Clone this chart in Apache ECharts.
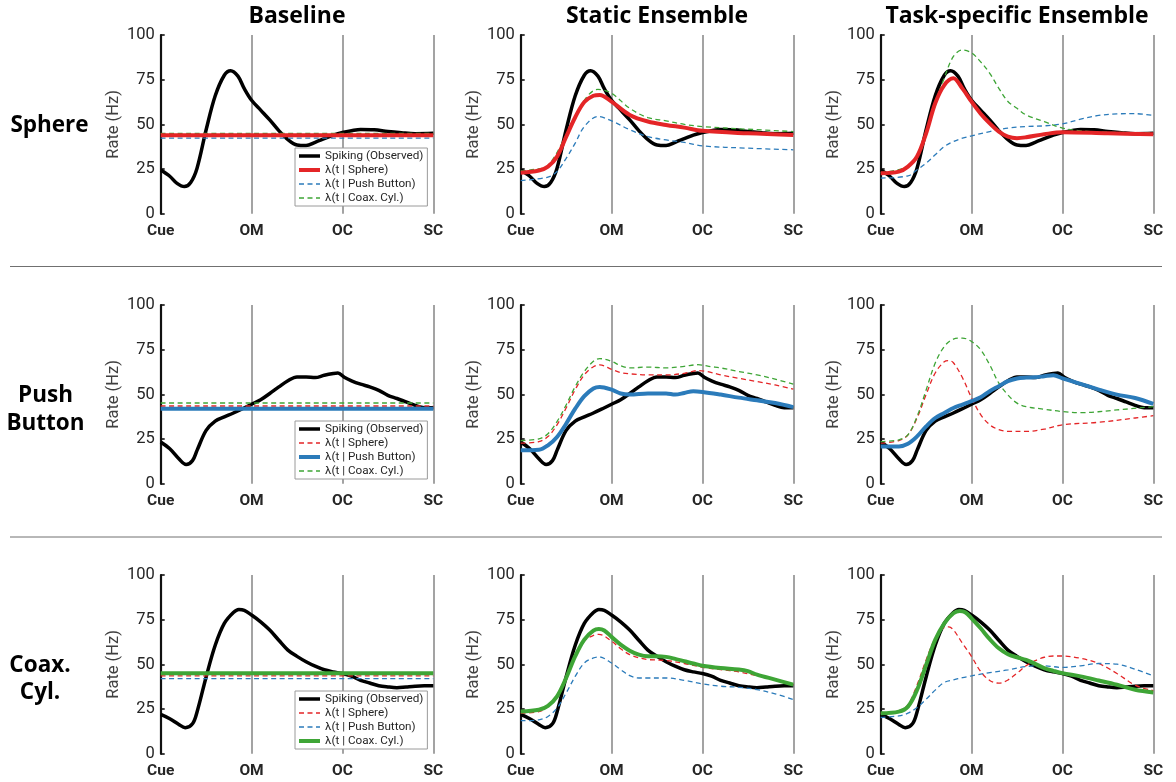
<!DOCTYPE html>
<html>
<head>
<meta charset="utf-8">
<title>Firing rate models</title>
<script src="https://cdn.jsdelivr.net/npm/echarts@6/dist/echarts.min.js"></script>
<style>
  html, body { margin: 0; padding: 0; background: #fff; }
  #chart { width: 1176px; height: 782px; }
</style>
</head>
<body>
<div id="chart"></div>
<script>
// ---- labels ----
const COL_TITLES = ['Baseline', 'Static Ensemble', 'Task-specific Ensemble'];
const ROW_LABELS = ['Sphere', 'Push\nButton', 'Coax.\nCyl.'];
const TIME_TICKS = ['Cue', 'OM', 'OC', 'SC'];           // x = 0, 1, 2, 3
const RATE_TICKS = [0, 25, 50, 75, 100];
const LEGEND_NAMES = ['Spiking (Observed)', 'λ(t | Sphere)', 'λ(t | Push Button)', 'λ(t | Coax. Cyl.)'];
const MODEL_COLORS = ['#e42527', '#2b7bba', '#3ea536'];  // Sphere, Push Button, Coax. Cyl.

// ---- observed spiking rate, [time, Hz] ----
const SPHERE_SPIKING = [[0,24.5],[0.1,21],[0.18,17],[0.26,15.2],[0.33,17.5],[0.4,25.5],[0.5,47],[0.6,66],[0.7,77.5],[0.77,80],[0.85,77],[0.92,70],[1.0,63.5],[1.1,58],[1.2,52.5],[1.3,46.5],[1.4,41.5],[1.5,38.5],[1.6,38.2],[1.7,40],[1.8,42],[1.9,44],[2.0,45.5],[2.1,46.5],[2.2,47.2],[2.35,47],[2.5,46],[2.65,45.3],[2.8,44.8],[3,45]];
const PUSH_SPIKING = [[0,23.4],[0.1,19.6],[0.2,14],[0.28,10.8],[0.35,13],[0.4,18.7],[0.5,29.9],[0.6,35.1],[0.7,37.4],[0.8,39.6],[0.9,42],[1.0,44.5],[1.1,47],[1.2,50.5],[1.3,54.2],[1.4,57.6],[1.5,59.8],[1.6,59.8],[1.7,59.4],[1.8,60.7],[1.9,61.7],[1.95,62],[2.02,59.6],[2.1,57.6],[2.2,55.7],[2.3,54.2],[2.4,52.3],[2.5,49.5],[2.6,47.7],[2.7,45.8],[2.8,43.9],[2.9,42.6],[3,42.6]];
const COAX_SPIKING = [[0,22],[0.1,19.6],[0.2,16.4],[0.27,14.6],[0.35,16.8],[0.4,23.4],[0.5,43],[0.6,60.7],[0.7,72.9],[0.8,79],[0.86,80.7],[0.92,80.2],[1.0,77.6],[1.1,73.8],[1.2,69.2],[1.3,63.5],[1.4,58],[1.5,54.5],[1.6,51.5],[1.7,49],[1.8,47],[1.9,45.8],[2.0,44.9],[2.1,43.4],[2.2,41.1],[2.3,39.6],[2.4,38.1],[2.5,37.4],[2.6,37],[2.7,37.4],[2.8,37.8],[2.9,38],[3,38]];

// ---- baseline (constant) rates: [Sphere, Push Button, Coax. Cyl.] ----
const SPHERE_BASELINE = [44.0, 42.3, 45.0];
const PUSH_BASELINE = [43.5, 42.0, 45.2];
const COAX_BASELINE = [43.6, 42.0, 45.0];

// ---- static ensemble predictions ----
const STATIC_SPHERE_SPH = [[0,23],[0.2,24.2],[0.3,26.4],[0.4,32],[0.5,43],[0.6,54],[0.7,62.5],[0.8,66],[0.87,66.5],[1.0,62.7],[1.2,55.3],[1.4,51.6],[1.6,49.7],[1.8,48.2],[2.0,46.4],[2.5,45],[3,44.1]];
const STATIC_SPHERE_PUSH = [[0,18.6],[0.3,20.5],[0.4,23.7],[0.5,31],[0.6,39.5],[0.7,48.8],[0.85,54.4],[1.0,52],[1.2,47],[1.4,43.2],[1.6,41.3],[1.8,39.9],[2.0,38],[2.5,36.7],[3,35.8]];
const STATIC_SPHERE_COAX = [[0,24],[0.15,24.8],[0.3,27],[0.5,44],[0.7,63.5],[0.85,69.6],[1.0,67.4],[1.2,59],[1.4,53.8],[1.6,52],[1.8,50],[2.0,48.8],[2.5,47.3],[3,46]];

const STATIC_PUSH_SPH = [[0,22.7],[0.2,23.6],[0.3,26.4],[0.4,33],[0.5,42.4],[0.6,52.7],[0.7,61],[0.8,65.5],[0.87,66.5],[1.0,64],[1.1,62.2],[1.2,61.5],[1.4,60.9],[1.6,60.9],[1.8,61.8],[1.95,63.3],[2.05,62.8],[2.2,60.9],[2.4,59],[2.6,57.2],[2.8,55.3],[3,52.9]];
const STATIC_PUSH_PUSH = [[0,18.7],[0.2,19],[0.3,21.5],[0.4,26.2],[0.5,33.6],[0.6,42],[0.7,49],[0.8,53.3],[0.87,54.2],[1.0,52.7],[1.1,50.5],[1.2,49.9],[1.4,50.5],[1.6,50.5],[1.7,49.9],[1.8,50.8],[1.9,51.8],[2.0,51.4],[2.2,49.9],[2.4,48.2],[2.6,46.7],[2.8,45.2],[3,42.9]];
const STATIC_PUSH_COAX = [[0,24.2],[0.2,25.1],[0.3,28],[0.4,34.8],[0.5,44.1],[0.6,54.4],[0.7,62.8],[0.8,68.5],[0.87,70],[1.0,68.5],[1.1,66],[1.2,64.8],[1.4,65.3],[1.6,64.8],[1.8,65.7],[1.95,66.6],[2.1,65.5],[2.2,64.8],[2.4,62.8],[2.6,60.9],[2.8,58.5],[3,55.7]];

const STATIC_COAX_SPH = [[0,22.7],[0.2,23.6],[0.3,26.4],[0.4,33],[0.5,43.3],[0.6,54.6],[0.7,63],[0.8,66.2],[0.86,66.8],[1.0,63],[1.1,58.7],[1.2,55.5],[1.3,53.7],[1.4,52.7],[1.6,52.2],[1.8,50.5],[2.0,48.4],[2.2,47.1],[2.4,45.8],[2.6,43.7],[2.8,41.5],[3,38.7]];
const STATIC_COAX_PUSH = [[0,18.5],[0.2,19],[0.3,20.9],[0.4,25.6],[0.5,34],[0.6,43.3],[0.7,50.8],[0.8,53.6],[0.86,54.2],[1.0,50.8],[1.1,47.1],[1.2,43.7],[1.3,42.4],[1.4,42.4],[1.6,42.4],[1.8,41.1],[2.0,39.1],[2.2,37.8],[2.4,37.2],[2.6,35.9],[2.8,33.5],[3,30.4]];
const STATIC_COAX_COAX = [[0,23.6],[0.2,24.6],[0.3,26.8],[0.4,32.1],[0.5,42.4],[0.6,54.6],[0.7,63.9],[0.8,68.9],[0.86,69.8],[0.92,69],[1.0,65.4],[1.1,61.1],[1.2,57.7],[1.3,55.5],[1.4,54.6],[1.5,54.6],[1.6,54.2],[1.7,53.1],[1.8,51.8],[1.9,50.5],[2.0,49.3],[2.2,48],[2.4,47.1],[2.5,46.2],[2.6,44.3],[2.8,41.5],[3,38.7]];

// ---- task-specific ensemble predictions ----
const TASK_SPHERE_SPH = [[0,22.7],[0.2,23.6],[0.3,26.4],[0.4,32],[0.5,45],[0.6,61.8],[0.7,72],[0.8,75.8],[0.9,70],[1.0,62.7],[1.1,56],[1.2,50.6],[1.3,46],[1.4,43.2],[1.5,42.3],[1.6,42.8],[1.8,44.5],[2.0,45.6],[2.5,45],[3,44.5]];
const TASK_SPHERE_PUSH = [[0,20],[0.3,21.2],[0.4,24.6],[0.5,28.3],[0.6,33],[0.7,37.6],[0.8,40.4],[0.9,42.3],[1.0,43.6],[1.2,46],[1.4,47.9],[1.6,48.8],[1.8,49.2],[2.0,50.3],[2.2,52.9],[2.4,55],[2.6,55.9],[2.8,56],[3,55]];
const TASK_SPHERE_COAX = [[0,23],[0.3,26.4],[0.4,33],[0.5,46],[0.6,62],[0.7,76],[0.8,88],[0.9,91.6],[1.0,90],[1.1,85],[1.2,78.6],[1.3,70.2],[1.4,62.8],[1.5,59],[1.6,55.3],[1.8,51.6],[2.0,47.9],[2.2,46.4],[2.5,45.6],[3,45.4]];

const TASK_PUSH_SPH = [[0,22.7],[0.2,24.2],[0.3,27.4],[0.4,36.8],[0.5,49.9],[0.6,62],[0.7,68.3],[0.75,68.9],[0.8,67.7],[0.9,59.3],[1.0,48],[1.1,38.7],[1.2,33],[1.3,30.3],[1.4,29.3],[1.6,29.3],[1.8,30.6],[2.0,33],[2.4,34.4],[2.8,36.8],[3,38.1]];
const TASK_PUSH_PUSH = [[0,20.9],[0.2,20.9],[0.3,22.4],[0.4,26.5],[0.5,32.1],[0.6,36.8],[0.7,39.6],[0.8,42.4],[0.9,44.3],[1.0,46.2],[1.1,48.4],[1.2,51.8],[1.3,54.6],[1.4,57.4],[1.5,58.9],[1.6,59.4],[1.7,59.6],[1.8,60.2],[1.9,60.7],[2.0,59],[2.2,55.9],[2.4,52.7],[2.6,49.9],[2.8,48],[3,44.7]];
const TASK_PUSH_COAX = [[0,23.6],[0.2,24.6],[0.3,27.4],[0.4,37.6],[0.5,52.5],[0.6,67.5],[0.7,76.8],[0.8,80.9],[0.9,81.5],[1.0,79.6],[1.1,75],[1.2,66.5],[1.3,56.3],[1.4,49.7],[1.5,45.1],[1.6,43.2],[1.8,41.7],[2.0,40.4],[2.2,39.8],[2.6,41.3],[3,43.2]];

const TASK_COAX_SPH = [[0,22.7],[0.2,24.2],[0.3,27.4],[0.4,38.5],[0.5,52.5],[0.6,64.6],[0.7,70.6],[0.75,71],[0.8,69.3],[0.9,61.8],[1.0,54.4],[1.1,46],[1.2,41],[1.3,39.5],[1.4,41.3],[1.5,45.1],[1.6,49.2],[1.7,52.1],[1.8,54],[1.9,54.7],[2.0,54.7],[2.2,53.4],[2.4,50.5],[2.6,44.9],[2.8,38.4],[3,35.3]];
const TASK_COAX_PUSH = [[0,20.3],[0.2,21.2],[0.3,22.7],[0.4,25.9],[0.5,30.5],[0.6,35.6],[0.7,39.9],[0.8,41.3],[0.9,42.6],[1.0,43.6],[1.2,45.4],[1.4,46.9],[1.6,48.8],[1.8,49.2],[2.0,48.3],[2.2,49.2],[2.4,50.5],[2.6,50.1],[2.8,47.3],[3,43.6]];
const TASK_COAX_COAX = [[0,22.7],[0.2,23.6],[0.3,26.4],[0.4,35.7],[0.5,49.7],[0.6,63.7],[0.7,73],[0.8,78.6],[0.87,79.9],[0.93,79.2],[1.0,75.8],[1.1,70.2],[1.2,64.1],[1.3,59],[1.4,55.7],[1.5,54],[1.6,52.5],[1.7,50.3],[1.8,47.9],[1.9,46.4],[2.0,45.1],[2.2,43.3],[2.4,41],[2.6,38.6],[2.8,35.8],[3,34.3]];

// ---- assemble per-row tables ----
const SPIKING = [SPHERE_SPIKING, PUSH_SPIKING, COAX_SPIKING];
const BASELINE = [SPHERE_BASELINE, PUSH_BASELINE, COAX_BASELINE];
const STATIC = [
  [STATIC_SPHERE_SPH, STATIC_SPHERE_PUSH, STATIC_SPHERE_COAX],
  [STATIC_PUSH_SPH, STATIC_PUSH_PUSH, STATIC_PUSH_COAX],
  [STATIC_COAX_SPH, STATIC_COAX_PUSH, STATIC_COAX_COAX]
];
const TASK = [
  [TASK_SPHERE_SPH, TASK_SPHERE_PUSH, TASK_SPHERE_COAX],
  [TASK_PUSH_SPH, TASK_PUSH_PUSH, TASK_PUSH_COAX],
  [TASK_COAX_SPH, TASK_COAX_PUSH, TASK_COAX_COAX]
];

// ---- layout ----
const FONT = 'Roboto, "Noto Sans", sans-serif';
const HEAD_FONT = '"Open Sans", Roboto, sans-serif';
const COL_LEFT = [160.7, 520.7, 880.7];
const PANEL_W = 272.6;
const ROW_TOP = [35, 305, 575];
const PANEL_H = 178.8;
const LEGEND_TOP = [148, 421, 691];

const SPIKE_WIDTH = 3.5, OWN_WIDTH = 4, OTHER_WIDTH = 1.3;

const grids = [], xAxes = [], yAxes = [], series = [], legends = [];

const rowKey = (r, name) => 'r' + r + '|' + name;
const flatLine = (v) => [[0, v], [3, v]];

for (let r = 0; r < 3; r++) {
  for (let c = 0; c < 3; c++) {
    const g = r * 3 + c;
    grids.push({ left: COL_LEFT[c], top: ROW_TOP[r], width: PANEL_W, height: PANEL_H });
    xAxes.push({
      gridIndex: g, type: 'value', min: 0, max: 3, interval: 1,
      axisLine: { show: false }, axisTick: { show: false },
      axisLabel: {
        formatter: (v) => TIME_TICKS[Math.round(v)] || '',
        fontFamily: FONT, fontSize: 15.5, fontWeight: 'bold', color: '#262626', margin: 9,
        showMinLabel: true, showMaxLabel: true
      },
      splitLine: { show: true, lineStyle: { color: '#858585', width: 1.5 } }
    });
    yAxes.push({
      gridIndex: g, type: 'value', min: RATE_TICKS[0], max: RATE_TICKS[RATE_TICKS.length - 1], interval: 25,
      axisLine: { show: true, lineStyle: { color: '#111', width: 2.2 } },
      axisTick: { show: true, inside: true, length: 4, lineStyle: { color: '#111', width: 1.6 } },
      axisLabel: { fontFamily: FONT, fontSize: 16.5, color: '#262626', margin: 6 },
      splitLine: { show: false },
      name: 'Rate (Hz)', nameLocation: 'middle', nameGap: 38,
      nameTextStyle: { fontFamily: FONT, fontSize: 16.5, color: '#404040' }
    });

    // observed spiking
    series.push({
      name: rowKey(r, LEGEND_NAMES[0]), type: 'line', xAxisIndex: g, yAxisIndex: g,
      data: SPIKING[r], smooth: 0.35, symbol: 'none', z: 2,
      lineStyle: { color: '#000', width: SPIKE_WIDTH }, itemStyle: { color: '#000' }
    });
    // model predictions; the row's own class is thick and solid
    for (let k = 0; k < 3; k++) {
      const own = k === r;
      const data = c === 0 ? flatLine(BASELINE[r][k]) : (c === 1 ? STATIC[r][k] : TASK[r][k]);
      series.push({
        name: rowKey(r, LEGEND_NAMES[k + 1]), type: 'line', xAxisIndex: g, yAxisIndex: g,
        data: data, smooth: 0.35, symbol: 'none', z: own ? 4 : 3,
        lineStyle: { color: MODEL_COLORS[k], width: own ? OWN_WIDTH : OTHER_WIDTH, type: own ? 'solid' : [5, 3.5] },
        itemStyle: { color: MODEL_COLORS[k] }
      });
    }
  }
  legends.push({
    data: LEGEND_NAMES.map((n, i) => ({
      name: rowKey(r, n),
      lineStyle: { width: i === 0 ? SPIKE_WIDTH : (i - 1 === r ? OWN_WIDTH : 1.5) }
    })),
    formatter: (n) => n.slice(n.indexOf('|') + 1),
    orient: 'vertical', left: 295, top: LEGEND_TOP[r],
    itemWidth: 21, itemHeight: 10, itemGap: 2,
    padding: [2, 4, 2, 2],
    backgroundColor: '#fff', borderColor: '#9a9a9a', borderWidth: 1,
    itemStyle: { opacity: 0 },
    textStyle: { fontFamily: FONT, fontSize: 11.7, lineHeight: 12, color: '#262626' },
    selectedMode: false, z: 10
  });
}

// column titles, row labels and row separators
const graphics = [];
COL_TITLES.forEach((t, c) => graphics.push({
  type: 'text', x: COL_LEFT[c] + PANEL_W / 2, y: 16,
  style: { text: t, align: 'center', verticalAlign: 'middle', fill: '#000',
           font: 'bold 23px ' + HEAD_FONT }
}));
const ROW_LABEL_X = [49.5, 45.5, 40];
const ROW_LABEL_Y = [126, 409.5, 679];
ROW_LABELS.forEach((t, r) => graphics.push({
  type: 'text', x: ROW_LABEL_X[r], y: ROW_LABEL_Y[r],
  style: { text: t, align: 'center', verticalAlign: 'middle', fill: '#000',
           font: 'bold 22.5px ' + HEAD_FONT, lineHeight: 27.5 }
}));
[266.5, 537].forEach((y) => graphics.push({
  type: 'line', shape: { x1: 10, y1: y, x2: 1162, y2: y },
  style: { stroke: '#707070', lineWidth: 1 }
}));

const chart = echarts.init(document.getElementById('chart'), null, { renderer: 'canvas' });
chart.setOption({
  animation: false,
  backgroundColor: '#fff',
  grid: grids, xAxis: xAxes, yAxis: yAxes,
  series: series, legend: legends, graphic: graphics
});
</script>
</body>
</html>
